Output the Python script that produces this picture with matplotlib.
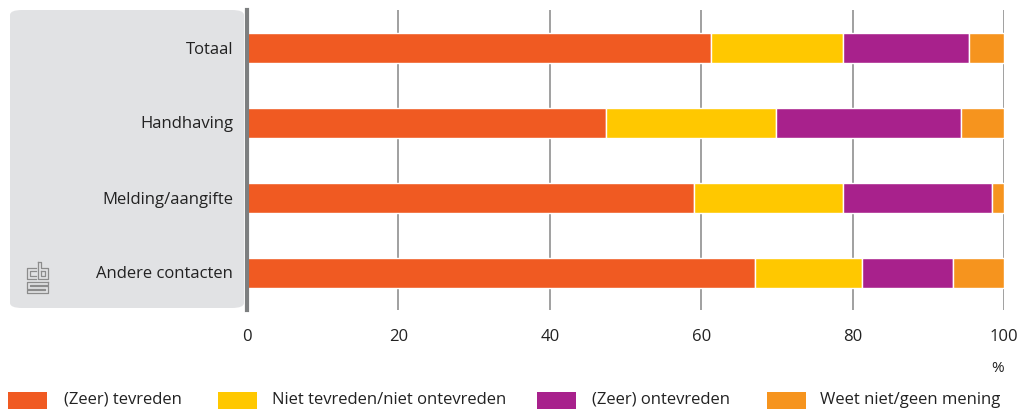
import numpy as np
import matplotlib
matplotlib.use('Agg')
from matplotlib import pyplot as plt
from matplotlib.patches import FancyBboxPatch, Rectangle
from matplotlib.lines import Line2D

plt.rcParams['font.family'] = ['Liberation Sans Narrow', 'Open Sans', 'DejaVu Sans']

categorieen = ['Totaal', 'Handhaving', 'Melding/aangifte', 'Andere contacten']
reeksen = ['(Zeer) tevreden', 'Niet tevreden/niet ontevreden', '(Zeer) ontevreden', 'Weet niet/geen mening']
tevreden = [61.3, 47.4, 59.0, 67.1]
neutraal = [17.4, 22.5, 19.7, 14.1]
ontevreden = [16.7, 24.4, 19.7, 12.1]
weet_niet = [4.6, 5.7, 1.6, 6.7]
kleuren = ['#f05a22', '#ffc800', '#a8218c', '#f6941e']

W, H = 1028, 412
fig = plt.figure(figsize=(W / 100, H / 100), dpi=100)

# grijs paneel achter de labels
paneel = FancyBboxPatch((10 / W, 1 - 308 / H), 234 / W, 298 / H,
                        boxstyle='round,pad=0,rounding_size=0.012',
                        transform=fig.transFigure, facecolor='#e1e2e4',
                        edgecolor='none', zorder=-1)
fig.patches.append(paneel)

ax = fig.add_axes([247 / W, 1 - 310 / H, 757 / W, 300 / H])
ax.patch.set_alpha(0)

y = np.arange(len(categorieen))
links = np.zeros(len(categorieen))
for waarden, kleur, naam in zip([tevreden, neutraal, ontevreden, weet_niet], kleuren, reeksen):
    ax.barh(y, waarden, left=links, height=0.4, color=kleur, edgecolor='white',
            linewidth=1.0, label=naam, zorder=3)
    links += np.array(waarden)

ax.set_xlim(0, 100)
ax.set_ylim(3.5, -0.5)
ax.set_yticks(y)
ax.set_yticklabels(categorieen, fontsize=12, color='#222222')
ax.set_xticks([0, 20, 40, 60, 80, 100])
ax.tick_params(axis='both', length=0, labelsize=12, labelcolor='#222222')
ax.tick_params(axis='y', pad=10)
ax.tick_params(axis='x', pad=14)
ax.xaxis.grid(True, color='#999999', linewidth=1.3, zorder=1)
ax.set_axisbelow(True)
for s in ['top', 'right', 'bottom']:
    ax.spines[s].set_visible(False)
ax.spines['left'].set_color('#7d7f80')
ax.spines['left'].set_linewidth(3)
ax.spines['left'].set_zorder(5)

fig.text(1004 / W, 1 - 368 / H, '%', ha='right', va='center', fontsize=11, color='#222222')

# legenda
posities = [(8, 64), (218, 272), (537, 592), (767, 820)]
for (px, tx), kleur, naam in zip(posities, kleuren, reeksen):
    fig.patches.append(Rectangle((px / W, 1 - 409 / H), 39 / W, 17 / H,
                                 transform=fig.transFigure, facecolor=kleur, edgecolor='none'))
    fig.text(tx / W, 1 - 400 / H, naam, ha='left', va='center', fontsize=12, color='#222222')

# cbs-logo (vereenvoudigd)
def lijn(xs, ys):
    fig.add_artist(Line2D([v / W for v in xs], [1 - v / H for v in ys],
                          transform=fig.transFigure, color='#8c8c8c', linewidth=0.9))

lijn([36, 27, 27, 36], [268, 268, 279, 279])
lijn([36, 30, 30, 36], [271, 271, 276, 276])
lijn([38, 38, 48, 48, 41, 41, 38], [262, 279, 279, 268, 268, 262, 262])
lijn([41, 41, 45, 45, 41], [271, 276, 276, 271, 271])
lijn([48, 27, 27, 45, 45, 27, 27, 48, 48, 30, 30, 48, 48],
     [282, 282, 289, 289, 290, 290, 293, 293, 286, 286, 285, 285, 282])

fig.savefig('out.png', dpi=100)
